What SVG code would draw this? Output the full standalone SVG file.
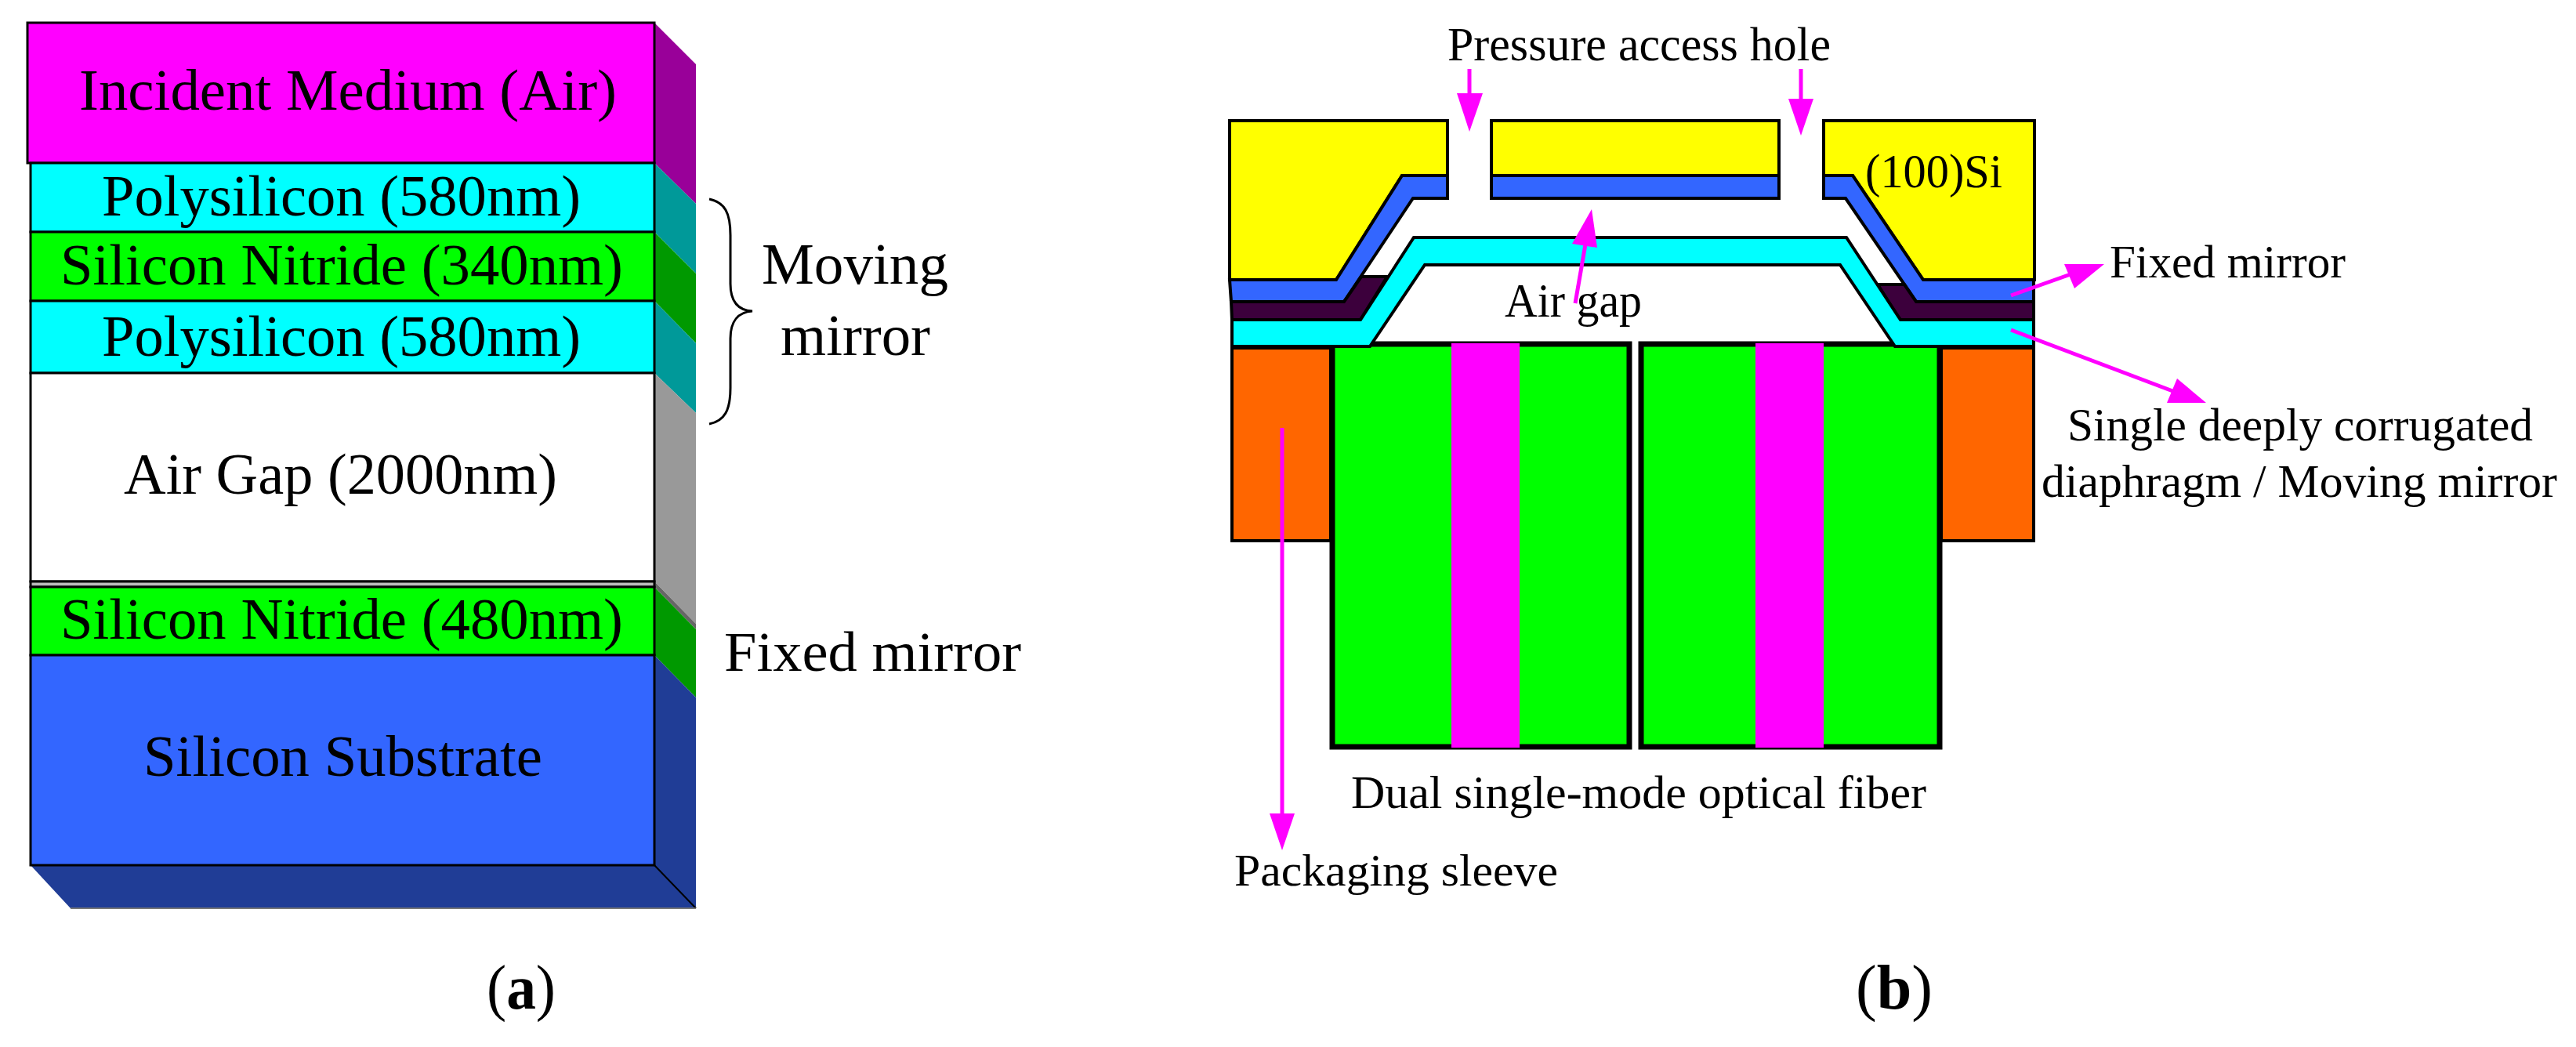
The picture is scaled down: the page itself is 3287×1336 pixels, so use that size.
<svg xmlns="http://www.w3.org/2000/svg" width="3287" height="1336" viewBox="0 0 3287 1336">
<style>
text{font-family:"Liberation Serif","Times New Roman",serif;fill:#000}
.a{font-size:75px}.b{font-size:60px}
.s{stroke:#000;stroke-width:3;stroke-linejoin:miter}
.k{stroke:#000;stroke-width:4;stroke-linejoin:miter}
.f{stroke:#000;stroke-width:7;fill:#0f0}
.ln{stroke:#f0f;stroke-width:5;fill:none}
.hd{fill:#f0f}
</style>
<rect width="3287" height="1336" fill="#fff"/>
<g id="stack">
<g id="incident-medium">
<polygon points="835,29 888,82 888,260 835,208" fill="#909"/>
<rect x="35" y="29" width="800" height="179" fill="#f0f" class="s"/>
<text class="a" x="101" y="140" textLength="686" lengthAdjust="spacingAndGlyphs">Incident Medium (Air)</text>
</g>
<g id="polysilicon-1">
<polygon points="835,208 888,260 888,349 835,296" fill="#099"/>
<rect x="39" y="208" width="796" height="88" fill="#0ff" class="s"/>
<text class="a" x="130" y="275" textLength="611" lengthAdjust="spacingAndGlyphs">Polysilicon (580nm)</text>
</g>
<g id="nitride-340">
<polygon points="835,296 888,349 888,438 835,384" fill="#090"/>
<rect x="39" y="296" width="796" height="88" fill="#0f0" class="s"/>
<text class="a" x="77" y="363" textLength="718" lengthAdjust="spacingAndGlyphs">Silicon Nitride (340nm)</text>
</g>
<g id="polysilicon-2">
<polygon points="835,384 888,438 888,527 835,476" fill="#099"/>
<rect x="39" y="384" width="796" height="92" fill="#0ff" class="s"/>
<text class="a" x="130" y="454" textLength="611" lengthAdjust="spacingAndGlyphs">Polysilicon (580nm)</text>
</g>
<g id="air-gap">
<polygon points="835,476 888,527 888,796 835,742" fill="#999"/>
<polygon points="835,742 888,796 888,803 835,749" fill="#666"/>
<rect x="39" y="476" width="796" height="266" fill="#fff" class="s"/>
<rect x="39" y="742" width="796" height="7" fill="#bbb" class="s"/>
<text class="a" x="158" y="630" textLength="553" lengthAdjust="spacingAndGlyphs">Air Gap (2000nm)</text>
</g>
<g id="nitride-480">
<polygon points="835,749 888,803 888,890 835,836" fill="#090"/>
<rect x="39" y="749" width="796" height="87" fill="#0f0" class="s"/>
<text class="a" x="77" y="815" textLength="718" lengthAdjust="spacingAndGlyphs">Silicon Nitride (480nm)</text>
</g>
<g id="substrate">
<polygon points="835,836 888,890 888,1159 835,1104" fill="#203d96"/>
<polygon points="39,1104 835,1104 888,1159 90,1159" fill="#203d96"/>
<path d="M835,1104 L888,1159" stroke="#000" stroke-width="2" fill="none"/>
<path d="M90,1159H888" stroke="#777" stroke-width="2" fill="none"/>
<rect x="39" y="836" width="796" height="268" fill="#36f" class="s"/>
<text class="a" x="183" y="990" textLength="509" lengthAdjust="spacingAndGlyphs">Silicon Substrate</text>
</g>
<g id="moving-mirror-brace">
<path d="M905,254 C925,258 932,272 932,300 L932,362 C932,385 942,396 960,397 C942,398 932,410 932,432 L932,495 C932,523 925,537 905,541" fill="none" stroke="#000" stroke-width="3"/>
<text class="a" x="972" y="362" textLength="238" lengthAdjust="spacingAndGlyphs">Moving</text>
<text class="a" x="996" y="453" textLength="191" lengthAdjust="spacingAndGlyphs">mirror</text>
</g>
<g id="fixed-mirror-label-a"><text style="font-size:71px" x="924" y="856" textLength="379" lengthAdjust="spacingAndGlyphs">Fixed mirror</text></g>
<g id="caption-a"><text style="font-size:80px" x="621" y="1287" textLength="88" lengthAdjust="spacingAndGlyphs">(<tspan font-weight="bold">a</tspan>)</text></g>
</g>
<g id="sensor">
<g id="silicon-left"><polygon points="1569,154 1847,154 1847,224 1789,224 1705,357 1569,357" fill="#ff0" class="k"/></g>
<g id="silicon-mid"><rect x="1903" y="154" width="367" height="70" fill="#ff0" class="k"/></g>
<g id="silicon-right"><polygon points="2327,154 2596,154 2596,357 2454,357 2364,224 2327,224" fill="#ff0" class="k"/>
<text style="font-size:62px" x="2380" y="239" textLength="175" lengthAdjust="spacingAndGlyphs">(100)Si</text></g>
<g id="fixed-mirror-layer">
<polygon points="1569,357 1705,357 1789,224 1847,224 1847,253 1803,253 1715,385 1571,385" fill="#36f" class="k"/>
<rect x="1903" y="224" width="367" height="29" fill="#36f" class="k"/>
<polygon points="2327,224 2364,224 2454,357 2595,357 2595,385 2445,385 2355,253 2327,253" fill="#36f" class="k"/>
</g>
<g id="spacer">
<polygon points="1571,385 1715,385 1737,353 1770,353 1736,408 1572,408" fill="#3c003c" class="k"/>
<polygon points="2396,363 2430,363 2445,385 2595,385 2595,408 2424,408" fill="#3c003c" class="k"/>
</g>
<g id="fiber-1"><rect class="f" x="1700" y="439" width="379" height="514"/><rect x="1852" y="438" width="87" height="516" fill="#f0f"/></g>
<g id="fiber-2"><rect class="f" x="2094" y="439" width="381" height="514"/><rect x="2240" y="438" width="87" height="516" fill="#f0f"/></g>
<g id="sleeve-left"><rect x="1572" y="444" width="126" height="246" fill="#f60" class="k"/></g>
<g id="sleeve-right"><rect x="2477" y="444" width="118" height="246" fill="#f60" class="k"/></g>
<g id="diaphragm">
<polygon points="1572,408 1736,408 1804,303 2356,303 2425,408 2595,408 2595,442 2418,442 2348,338 1818,338 1748,442 1572,442" fill="#0ff" class="k"/>
</g>
</g>
<g id="connectors">
<path class="ln" d="M1875,88V125"/><polygon class="hd" points="1859,119 1892,119 1875,168"/>
<path class="ln" d="M2298,88V130"/><polygon class="hd" points="2282,126 2314,126 2298,173"/>
<path class="ln" d="M2010,387L2023,312"/><polygon class="hd" points="2006,311 2038,316 2031,267"/>
<path class="ln" d="M2566,377L2642,350"/><polygon class="hd" points="2634,337 2685,337 2647,368"/>
<path class="ln" d="M2566,421L2775,500"/><polygon class="hd" points="2778,483 2815,514 2765,514"/>
<path class="ln" d="M1636,546V1045"/><polygon class="hd" points="1620,1038 1652,1038 1636,1085"/>
</g>
<g id="labels">
<text style="font-size:62px" x="1847" y="77" textLength="489" lengthAdjust="spacingAndGlyphs">Pressure access hole</text>
<text style="font-size:62px" x="1920" y="404" textLength="175" lengthAdjust="spacingAndGlyphs">Air gap</text>
<text style="font-size:60px" x="2692" y="354" textLength="301" lengthAdjust="spacingAndGlyphs">Fixed mirror</text>
<text style="font-size:60px" x="2638" y="562" textLength="594" lengthAdjust="spacingAndGlyphs">Single deeply corrugated</text>
<text style="font-size:60px" x="2605" y="634" textLength="658" lengthAdjust="spacingAndGlyphs">diaphragm / Moving mirror</text>
<text style="font-size:59px" x="1724" y="1031" textLength="734" lengthAdjust="spacingAndGlyphs">Dual single-mode optical fiber</text>
<text style="font-size:56px" x="1575" y="1130" textLength="413" lengthAdjust="spacingAndGlyphs">Packaging sleeve</text>
<text style="font-size:80px" x="2368" y="1287" textLength="98" lengthAdjust="spacingAndGlyphs">(<tspan font-weight="bold">b</tspan>)</text>
</g>
</svg>
